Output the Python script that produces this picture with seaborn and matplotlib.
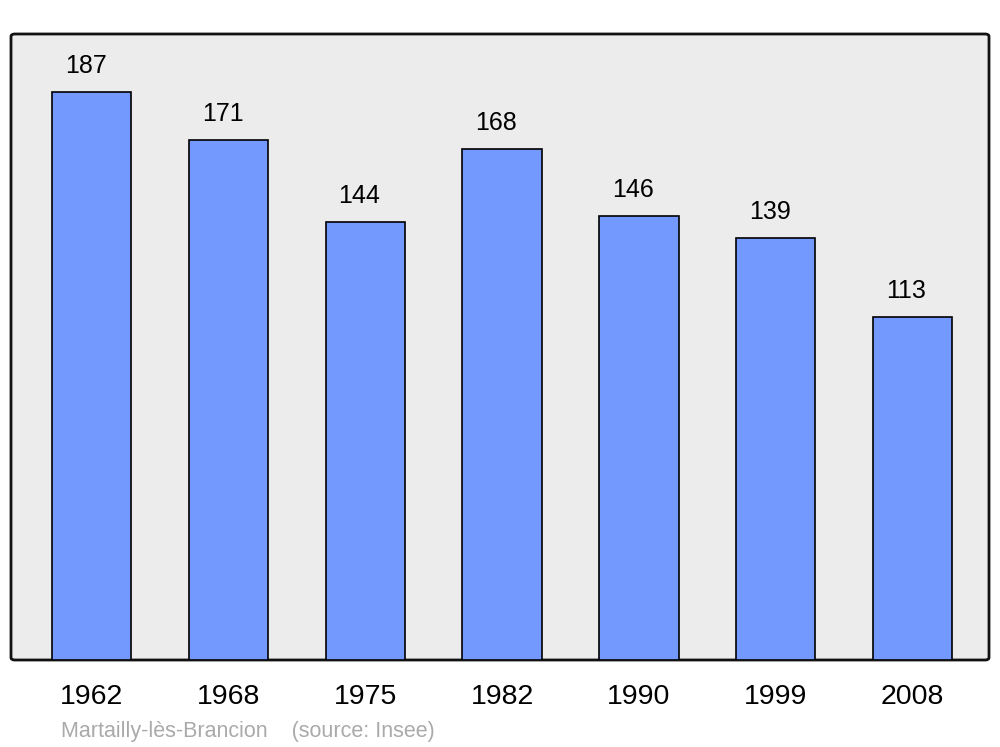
import matplotlib
matplotlib.use("Agg")
import matplotlib.pyplot as plt
from matplotlib.patches import FancyBboxPatch
import matplotlib.transforms as mtransforms
import seaborn as sns
import pandas as pd

# data
years = ["1962", "1968", "1975", "1982", "1990", "1999", "2008"]
population = [187, 171, 144, 168, 146, 139, 113]
commune = "Martailly-lès-Brancion"
source = "(source: Insee)"

df = pd.DataFrame({"year": years, "pop": population})

sns.set_style("white")
plt.rcParams["font.family"] = ["Liberation Sans", "DejaVu Sans"]

bar_color = "#7399ff"
bg_color = "#ececec"

fig = plt.figure(figsize=(10, 7.47), dpi=100)
ax = fig.add_axes([0.011, 1 - 660 / 747, 0.978, (660 - 34) / 747])

sns.barplot(data=df, x="year", y="pop", color=bar_color, saturation=1,
            edgecolor="black", linewidth=1.2, width=0.58, ax=ax)

ax.set_xlim(-0.59, 6.56)
ax.set_ylim(0, 206)

# rounded background frame
ax.patch.set_visible(False)
for s in ax.spines.values():
    s.set_visible(False)
frame = FancyBboxPatch((0, 0), 1, 1, boxstyle="round,pad=0,rounding_size=0.004",
                       transform=ax.transAxes, facecolor=bg_color,
                       edgecolor="#111111", linewidth=2, zorder=0, clip_on=False)
ax.add_patch(frame)

# value labels
offset = mtransforms.offset_copy(ax.transData, fig=fig, x=-6, y=26, units="dots")
for i, v in enumerate(population):
    ax.text(i, v, str(v), ha="center", va="center", fontsize=18, color="black",
            transform=offset)

ax.set_yticks([])
ax.set_xlabel("")
ax.set_ylabel("")
ax.tick_params(axis="x", length=0, pad=17.5, labelsize=20.5, labelcolor="black")

fig.text(0.061, 1 - 731 / 747, commune + "    " + source, color="#aaaaaa",
         fontsize=15.5, ha="left", va="center")

plt.savefig("out.png", dpi=100)
